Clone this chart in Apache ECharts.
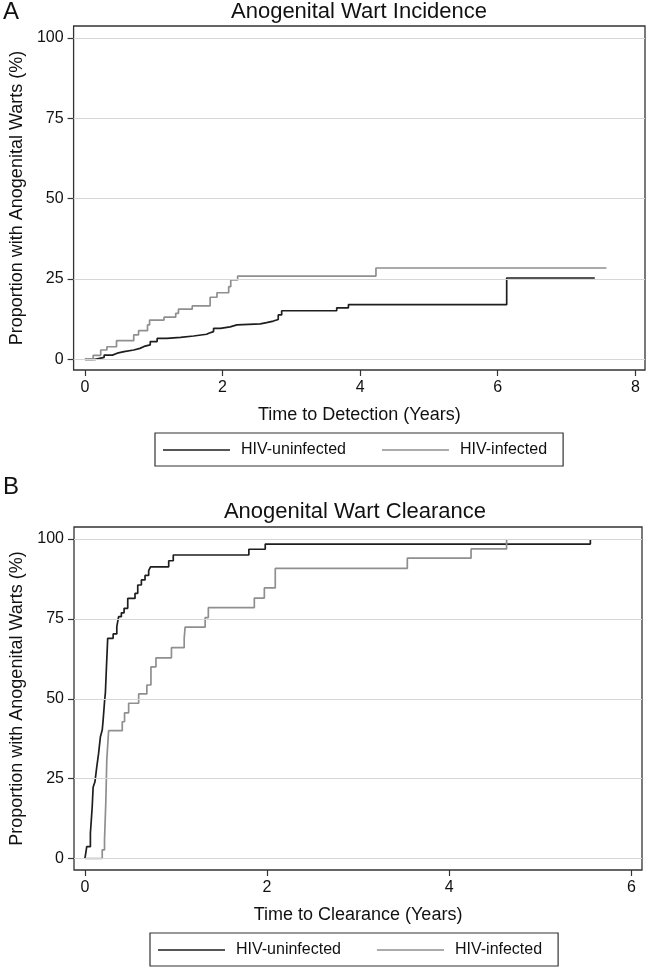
<!DOCTYPE html>
<html>
<head>
<meta charset="utf-8">
<script src="https://cdn.jsdelivr.net/npm/echarts@6/dist/echarts.min.js"></script>
<style>html,body{margin:0;padding:0;background:#fff}#c{width:650px;height:970px}</style>
</head>
<body>
<div id="c"></div>
<script>
// Panel A: Anogenital Wart Incidence
const incUninfT = [0, 0.15, 0.28, 0.40, 0.47, 0.57, 0.71, 0.80, 0.86, 0.95, 1.05, 1.19, 1.39, 1.58, 1.77, 1.80, 1.87, 1.97, 2.11, 2.21, 2.55, 2.64, 2.74, 2.81, 2.86, 3.66, 3.83, 6.13, 7.41];
const incUninfY = [0, 0.6, 1.3, 1.9, 2.4, 2.9, 3.4, 4.0, 4.5, 5.5, 6.5, 6.8, 7.25, 7.8, 8.1, 8.6, 9.6, 10.1, 10.7, 11.0, 11.4, 11.9, 12.4, 13.8, 15.1, 16.0, 17.0, 25.3, 25.3];
const incInfT = [0, 0.12, 0.23, 0.32, 0.46, 0.71, 0.78, 0.91, 0.94, 1.15, 1.32, 1.36, 1.56, 1.82, 1.92, 2.09, 2.12, 2.22, 4.23, 7.58];
const incInfY = [0, 1.2, 2.9, 3.9, 5.8, 7.6, 8.9, 10.7, 12.2, 13.1, 14.3, 15.6, 16.6, 19.3, 20.7, 22.6, 24.7, 25.9, 28.4, 28.4];

// Panel B: Anogenital Wart Clearance
const clrUninfT = [0, 0.02, 0.06, 0.07, 0.08, 0.09, 0.11, 0.13, 0.15, 0.17, 0.19, 0.20, 0.215, 0.225, 0.235, 0.25, 0.31, 0.35, 0.37, 0.40, 0.43, 0.47, 0.55, 0.58, 0.62, 0.66, 0.70, 0.72, 0.92, 0.97, 1.80, 1.98, 5.55];
const clrUninfY = [0, 3.7, 7.9, 12, 16.2, 22.3, 24.0, 28.7, 32.9, 38.1, 40.2, 43.3, 49, 52, 59, 68.9, 70.3, 72.6, 75.7, 76.9, 78.3, 81.4, 83, 85.6, 87.2, 88.6, 90.1, 91.3, 93.2, 95.0, 96.8, 98.4, 100];
const clrInfT = [0, 0.19, 0.215, 0.23, 0.24, 0.26, 0.41, 0.435, 0.48, 0.59, 0.68, 0.725, 0.78, 0.95, 1.09, 1.10, 1.32, 1.355, 1.86, 1.97, 2.09, 3.54, 4.24, 4.63];
const clrInfY = [0, 2.7, 5.8, 18.3, 30.8, 40.0, 42.8, 45.6, 48.6, 51.5, 54.3, 60.0, 62.8, 66.0, 68.9, 72.4, 75.4, 78.5, 81.5, 84.7, 90.8, 94.0, 96.9, 100];

const xTicksA = [0, 2, 4, 6, 8];
const xTicksB = [0, 2, 4, 6];
const yTicks = [0, 25, 50, 75, 100];

const titleA = 'Anogenital Wart Incidence';
const titleB = 'Anogenital Wart Clearance';
const xNameA = 'Time to Detection (Years)';
const xNameB = 'Time to Clearance (Years)';
const yName = 'Proportion with Anogenital Warts (%)';
const names = ['HIV-uninfected', 'HIV-infected'];

const zip = (t, y) => t.map((v, i) => [v, y[i]]);
const FONT = '"Liberation Sans", Arial, Helvetica, sans-serif';
const DARK = '#1e1e1e', GRAY = '#8f8f8f';

function xAxisCfg(grid, min, max, ticks, name, gap) {
  return {
    type: 'value', gridIndex: grid, min: min, max: max, position: 'bottom',
    name: name, nameLocation: 'middle', nameGap: gap,
    nameTextStyle: {fontFamily: FONT, fontSize: 18, color: '#111'},
    axisLine: {show: false, onZero: false},
    axisTick: {show: true, inside: false, length: 6, customValues: ticks, lineStyle: {color: '#333', width: 1.2}},
    axisLabel: {customValues: ticks, fontFamily: FONT, fontSize: 16, color: '#111', margin: 10},
    splitLine: {show: false}
  };
}
function yAxisCfg(grid, min, max, gap) {
  return {
    type: 'value', gridIndex: grid, min: min, max: max, position: 'left',
    name: yName, nameLocation: 'middle', nameGap: gap,
    nameTextStyle: {fontFamily: FONT, fontSize: 18, color: '#111'},
    axisLine: {show: false, onZero: false},
    axisTick: {show: true, inside: false, length: 6, customValues: yTicks, lineStyle: {color: '#333', width: 1.2}},
    axisLabel: {customValues: yTicks, fontFamily: FONT, fontSize: 16, color: '#111', margin: 10},
    splitLine: {show: false}
  };
}
function gridSeries(idx) {
  return {
    type: 'line', xAxisIndex: idx, yAxisIndex: idx, data: [], symbol: 'none', z: 1, silent: true,
    markLine: {
      silent: true, symbol: 'none', label: {show: false},
      lineStyle: {color: '#d6d6d6', width: 1.2, type: 'solid'},
      data: yTicks.map(v => ({yAxis: v}))
    }
  };
}
function curve(idx, name, data, color) {
  return {
    type: 'line', name: name, xAxisIndex: idx, yAxisIndex: idx, data: data,
    step: 'end', symbol: 'none', showSymbol: false, z: 3,
    lineStyle: {color: color, width: 1.7}, itemStyle: {color: color}
  };
}
function legendCfg(left, top) {
  return {
    data: names.map(n => ({name: n, icon: 'rect'})), left: left, top: top, orient: 'horizontal',
    itemWidth: 67, itemHeight: 1.6, itemGap: 36,
    padding: [9, 16, 8, 8],
    borderColor: '#333', borderWidth: 1.2, borderRadius: 0,
    textStyle: {fontFamily: FONT, fontSize: 16, color: '#111', padding: [0, 0, 0, 6]},
    selectedMode: false
  };
}

const chart = echarts.init(document.getElementById('c'), null, {renderer: 'canvas'});
chart.setOption({
  animation: false,
  backgroundColor: '#fff',
  title: [
    {text: 'A', left: 3, top: 0, padding: 0, textStyle: {fontFamily: FONT, fontSize: 24, fontWeight: 'normal', color: '#111'}},
    {text: titleA, left: 359, top: 1, padding: 0, textAlign: 'center', textStyle: {fontFamily: FONT, fontSize: 22, fontWeight: 'normal', color: '#111'}},
    {text: 'B', left: 3, top: 475, padding: 0, textStyle: {fontFamily: FONT, fontSize: 24, fontWeight: 'normal', color: '#111'}},
    {text: titleB, left: 355, top: 501, padding: 0, textAlign: 'center', textStyle: {fontFamily: FONT, fontSize: 22, fontWeight: 'normal', color: '#111'}}
  ],
  legend: [legendCfg(155, 433), legendCfg(150, 933)],
  grid: [
    {left: 73, top: 26, width: 572, height: 344, show: true, borderColor: '#333', borderWidth: 1.3, backgroundColor: '#fff'},
    {left: 68, top: 527, width: 574, height: 343, show: true, borderColor: '#333', borderWidth: 1.3, backgroundColor: '#fff'}
  ],
  xAxis: [
    xAxisCfg(0, -0.164, 8.14, xTicksA, xNameA, 36),
    xAxisCfg(1, -0.12, 6.117, xTicksB, xNameB, 36)
  ],
  yAxis: [
    yAxisCfg(0, -3.33, 103.7, 47),
    yAxisCfg(1, -3.6, 103.76, 48)
  ],
  series: [
    gridSeries(0),
    curve(0, names[0], zip(incUninfT, incUninfY), DARK),
    curve(0, names[1], zip(incInfT, incInfY), GRAY),
    gridSeries(1),
    curve(1, names[0], zip(clrUninfT, clrUninfY), DARK),
    curve(1, names[1], zip(clrInfT, clrInfY), GRAY)
  ]
});
</script>
</body>
</html>
